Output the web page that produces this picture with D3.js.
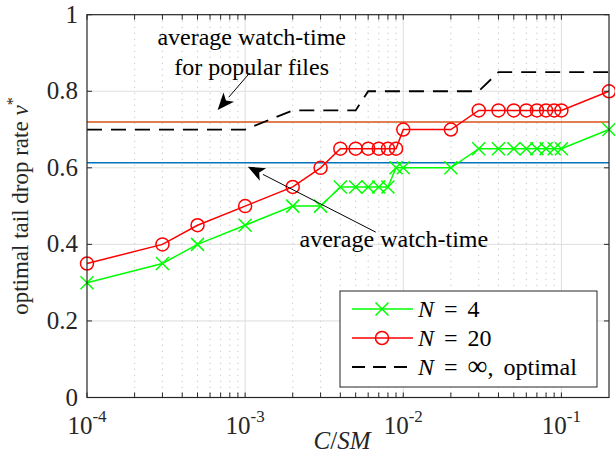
<!DOCTYPE html>
<html lang="en">
<head>
<meta charset="UTF-8">
<title>optimal tail drop rate</title>
<script src="https://cdn.jsdelivr.net/npm/d3@7"></script>
<style>
  body { margin: 0; background: #fff; }
  svg text { font-family: "Liberation Serif", "DejaVu Serif", serif; fill: #262626; }
</style>
</head>
<body>
<script>
// cache size ratio C/SM
var ratio = [1e-4, 3e-4, 5e-4, 1e-3, 2e-3, 3e-3, 4e-3, 5e-3, 6e-3, 7e-3, 8e-3, 9e-3,
             1e-2, 2e-2, 3e-2, 4e-2, 5e-2, 6e-2, 7e-2, 8e-2, 9e-2, 1e-1, 0.2];
var rateN4   = [0.30, 0.35, 0.40, 0.45, 0.50, 0.50, 0.55, 0.55, 0.55, 0.55, 0.55, 0.60,
                0.60, 0.60, 0.65, 0.65, 0.65, 0.65, 0.65, 0.65, 0.65, 0.65, 0.70];
var rateN20  = [0.35, 0.40, 0.45, 0.50, 0.55, 0.60, 0.65, 0.65, 0.65, 0.65, 0.65, 0.65,
                0.70, 0.70, 0.75, 0.75, 0.75, 0.75, 0.75, 0.75, 0.75, 0.75, 0.80];
var rateOpt  = [0.70, 0.70, 0.70, 0.70, 0.75, 0.75, 0.75, 0.75, 0.80, 0.80, 0.80, 0.80,
                0.80, 0.80, 0.80, 0.85, 0.85, 0.85, 0.85, 0.85, 0.85, 0.85, 0.85];
var avgWatch = 0.613;
var avgWatchPopular = 0.72;
var yTicks = [0, 0.2, 0.4, 0.6, 0.8, 1];
var yTickLabels = ["0", "0.2", "0.4", "0.6", "0.8", "1"];
var xDecades = [1e-4, 1e-3, 1e-2, 1e-1];
var xDecadeExp = ["-4", "-3", "-2", "-1"];

var w = 615, h = 456;
var pLeft = 87, pRight = 609, pTop = 14.7, pBottom = 397.5;

var svg = d3.select("body").append("svg")
  .attr("width", w)
  .attr("height", h);

var x = d3.scaleLog().domain([1e-4, 0.2]).range([pLeft, pRight]);
var y = d3.scaleLinear().domain([0, 1]).range([pBottom, pTop]);

// minor positions 2..9 x decade
var minor = [];
xDecades.forEach(function(d) {
  for (var k = 2; k <= 9; k++) {
    var v = d * k;
    if (v < 0.2) minor.push(v);
  }
});

// grid
svg.append("g").selectAll("line")
  .data(minor).enter().append("line")
  .attr("x1", function(d) { return x(d); }).attr("x2", function(d) { return x(d); })
  .attr("y1", pTop).attr("y2", pBottom)
  .attr("stroke", "#c4c4c4").attr("stroke-width", 1)
  .attr("stroke-dasharray", "1.2,4.8");

svg.append("g").selectAll("line")
  .data(xDecades.slice(1)).enter().append("line")
  .attr("x1", function(d) { return x(d); }).attr("x2", function(d) { return x(d); })
  .attr("y1", pTop).attr("y2", pBottom)
  .attr("stroke", "#dedede").attr("stroke-width", 1);

svg.append("g").selectAll("line")
  .data(yTicks.slice(1, -1)).enter().append("line")
  .attr("x1", pLeft).attr("x2", pRight)
  .attr("y1", function(d) { return y(d); }).attr("y2", function(d) { return y(d); })
  .attr("stroke", "#dedede").attr("stroke-width", 1);

// reference lines
svg.append("line")
  .attr("x1", pLeft).attr("x2", pRight)
  .attr("y1", y(avgWatch)).attr("y2", y(avgWatch))
  .attr("stroke", "#0072BD").attr("stroke-width", 1.5);
svg.append("line")
  .attr("x1", pLeft).attr("x2", pRight)
  .attr("y1", y(avgWatchPopular)).attr("y2", y(avgWatchPopular))
  .attr("stroke", "#D95319").attr("stroke-width", 1.5);

var line = d3.line()
  .x(function(d) { return x(d[0]); })
  .y(function(d) { return y(d[1]); });

function pairs(vals) { return ratio.map(function(r, i) { return [r, vals[i]]; }); }

function crossPath(cx, cy, s) {
  return "M" + (cx - s) + "," + (cy - s) + "L" + (cx + s) + "," + (cy + s) +
         "M" + (cx - s) + "," + (cy + s) + "L" + (cx + s) + "," + (cy - s);
}

// N = 4
svg.append("path").datum(pairs(rateN4))
  .attr("d", line).attr("fill", "none")
  .attr("stroke", "#00ff00").attr("stroke-width", 1.5);
svg.append("g").selectAll("path")
  .data(pairs(rateN4)).enter().append("path")
  .attr("d", function(d) { return crossPath(x(d[0]), y(d[1]), 6.5); })
  .attr("stroke", "#00ff00").attr("stroke-width", 1.5).attr("fill", "none");

// N = 20
svg.append("path").datum(pairs(rateN20))
  .attr("d", line).attr("fill", "none")
  .attr("stroke", "#ff0000").attr("stroke-width", 1.5);
svg.append("g").selectAll("circle")
  .data(pairs(rateN20)).enter().append("circle")
  .attr("cx", function(d) { return x(d[0]); })
  .attr("cy", function(d) { return y(d[1]); })
  .attr("r", 6.5)
  .attr("stroke", "#ff0000").attr("stroke-width", 1.5).attr("fill", "none");

// N = inf
svg.append("path").datum(pairs(rateOpt))
  .attr("d", line).attr("fill", "none")
  .attr("stroke", "#000").attr("stroke-width", 1.8)
  .attr("stroke-dasharray", "15,9");

// annotations
function arrow(tail, tip) {
  var x1 = x(tail[0]), y1 = y(tail[1]), x2 = x(tip[0]), y2 = y(tip[1]);
  var ang = Math.atan2(y2 - y1, x2 - x1);
  var len = 17, wid = 7;
  var bx = x2 - len * Math.cos(ang), by = y2 - len * Math.sin(ang);
  svg.append("line")
    .attr("x1", x1).attr("y1", y1).attr("x2", bx).attr("y2", by)
    .attr("stroke", "#000").attr("stroke-width", 1);
  var p1 = [bx + wid * Math.sin(ang), by - wid * Math.cos(ang)];
  var p2 = [bx - wid * Math.sin(ang), by + wid * Math.cos(ang)];
  var notch = [x2 - len * 0.75 * Math.cos(ang), y2 - len * 0.75 * Math.sin(ang)];
  svg.append("path")
    .attr("d", "M" + x2 + "," + y2 + "L" + p1 + "L" + notch + "L" + p2 + "Z")
    .attr("fill", "#000");
}
arrow([1.07e-3, 0.848], [6.7e-4, 0.751]);
arrow([6.7e-3, 0.432], [1.04e-3, 0.603]);

svg.append("text")
  .attr("x", x(1.1e-3)).attr("y", y(0.921))
  .attr("text-anchor", "middle").attr("font-size", 24)
  .style("fill", "#000")
  .text("average watch-time");
svg.append("text")
  .attr("x", x(1.1e-3)).attr("y", y(0.843))
  .attr("text-anchor", "middle").attr("font-size", 24)
  .style("fill", "#000")
  .text("for popular files");
svg.append("text")
  .attr("x", x(8.72e-3)).attr("y", y(0.393))
  .attr("text-anchor", "middle").attr("font-size", 24)
  .style("fill", "#000")
  .text("average watch-time");

// legend
var lg = svg.append("g").attr("transform", "translate(340,291)");
lg.append("rect").attr("width", 257).attr("height", 96)
  .attr("fill", "#fff").attr("stroke", "#262626").attr("stroke-width", 1);
var legendItems = [
  { name: "N", value: "4", note: "", color: "#00ff00", marker: "x" },
  { name: "N", value: "20", note: "", color: "#ff0000", marker: "o" },
  { name: "N", value: "\u221E", note: "optimal", color: "#000", marker: "dash" }
];
legendItems.forEach(function(d, i) {
  var cy = 18 + i * 29;
  var l = lg.append("line").attr("x1", 12).attr("x2", 73)
    .attr("y1", cy).attr("y2", cy)
    .attr("stroke", d.color).attr("stroke-width", 1.5);
  if (d.marker === "dash") l.attr("stroke-dasharray", "13,8").attr("stroke-width", 1.8);
  if (d.marker === "x") lg.append("path").attr("d", crossPath(42, cy, 6.5))
    .attr("stroke", d.color).attr("stroke-width", 1.5);
  if (d.marker === "o") lg.append("circle").attr("cx", 42).attr("cy", cy).attr("r", 6.5)
    .attr("stroke", d.color).attr("stroke-width", 1.5).attr("fill", "none");
  var t = lg.append("text").attr("x", 78).attr("y", cy + 8)
    .attr("font-size", 24).style("fill", "#000");
  t.append("tspan").attr("font-style", "italic").text(d.name);
  t.append("tspan").attr("dx", 10).text("=");
  t.append("tspan").attr("dx", 10).attr("font-size", d.note ? 28 : 24).text(d.value);
  if (d.note) {
    t.append("tspan").text(",");
    t.append("tspan").attr("dx", 10).text(d.note);
  }
});

// axes box and ticks
var axis = svg.append("g");
axis.append("rect")
  .attr("x", pLeft).attr("y", pTop)
  .attr("width", pRight - pLeft).attr("height", pBottom - pTop)
  .attr("fill", "none").attr("stroke", "#262626").attr("stroke-width", 1.2);

var tl = 5;
var xTickVals = xDecades.concat(minor);
xTickVals.forEach(function(v) {
  axis.append("line").attr("x1", x(v)).attr("x2", x(v))
    .attr("y1", pBottom).attr("y2", pBottom - tl)
    .attr("stroke", "#262626").attr("stroke-width", 1);
  axis.append("line").attr("x1", x(v)).attr("x2", x(v))
    .attr("y1", pTop).attr("y2", pTop + tl)
    .attr("stroke", "#262626").attr("stroke-width", 1);
});
yTicks.forEach(function(v, i) {
  axis.append("line").attr("x1", pLeft).attr("x2", pLeft + tl)
    .attr("y1", y(v)).attr("y2", y(v))
    .attr("stroke", "#262626").attr("stroke-width", 1);
  axis.append("line").attr("x1", pRight).attr("x2", pRight - tl)
    .attr("y1", y(v)).attr("y2", y(v))
    .attr("stroke", "#262626").attr("stroke-width", 1);
  axis.append("text")
    .attr("x", pLeft - 9).attr("y", y(v) + 8)
    .attr("text-anchor", "end").attr("font-size", 25)
    .text(yTickLabels[i]);
});
xDecades.forEach(function(v, i) {
  var t = axis.append("text")
    .attr("x", x(v)).attr("y", pBottom + 36)
    .attr("text-anchor", "middle").attr("font-size", 25);
  t.append("tspan").text("10");
  t.append("tspan").attr("dy", -12).attr("font-size", 17).text(xDecadeExp[i]);
});

// axis labels
var xl = svg.append("text")
  .attr("x", 342).attr("y", 449)
  .attr("text-anchor", "middle").attr("font-size", 25);
xl.append("tspan").attr("font-style", "italic").text("C");
xl.append("tspan").text("/");
xl.append("tspan").attr("font-style", "italic").text("SM");

var yl = svg.append("text")
  .attr("transform", "translate(28," + ((pTop + pBottom) / 2) + ") rotate(-90)")
  .attr("text-anchor", "middle").attr("font-size", 23);
yl.append("tspan").text("optimal tail drop rate ");
yl.append("tspan").attr("font-style", "italic").text("\u03BD");
yl.append("tspan").attr("dy", -10).attr("font-size", 16).text("*");
</script>
</body>
</html>
